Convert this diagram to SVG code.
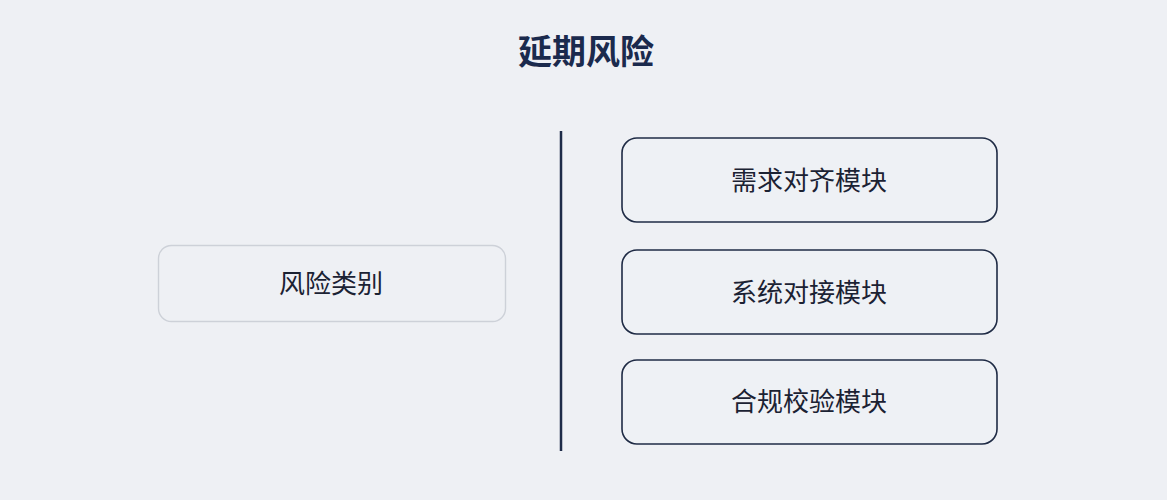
<svg xmlns="http://www.w3.org/2000/svg" width="1167" height="500" viewBox="0 0 1167 500">
<style>
.t{font-family:"Noto Sans CJK SC","Noto Sans",sans-serif;text-anchor:middle;dominant-baseline:central}
.lbl{font-size:26px;fill:#1b2233}
.box{fill:#eef1f5;stroke:#1f2b45;stroke-width:1.6}
.soft{fill:#eef0f4;stroke:#cdd1d8;stroke-width:1.4}
</style>
<rect width="1167" height="500" fill="#eef0f4"/>
<text class="t" x="586" y="49" font-size="34" font-weight="bold" fill="#1b2a4d">延期风险</text>
<g id="connectors">
<line x1="561" y1="131" x2="561" y2="451" stroke="#1e2b48" stroke-width="2.5"/>
</g>
<g id="node-category">
<rect class="soft" x="158.5" y="245.5" width="347" height="76" rx="13"/>
<text class="t lbl" x="331" y="281">风险类别</text>
</g>
<g id="node-1">
<rect class="box" x="622" y="138" width="375" height="84" rx="15"/>
<text class="t lbl" x="809" y="178">需求对齐模块</text>
</g>
<g id="node-2">
<rect class="box" x="622" y="250" width="375" height="84" rx="15"/>
<text class="t lbl" x="809" y="290">系统对接模块</text>
</g>
<g id="node-3">
<rect class="box" x="622" y="360" width="375" height="84" rx="15"/>
<text class="t lbl" x="809" y="399">合规校验模块</text>
</g>
</svg>
